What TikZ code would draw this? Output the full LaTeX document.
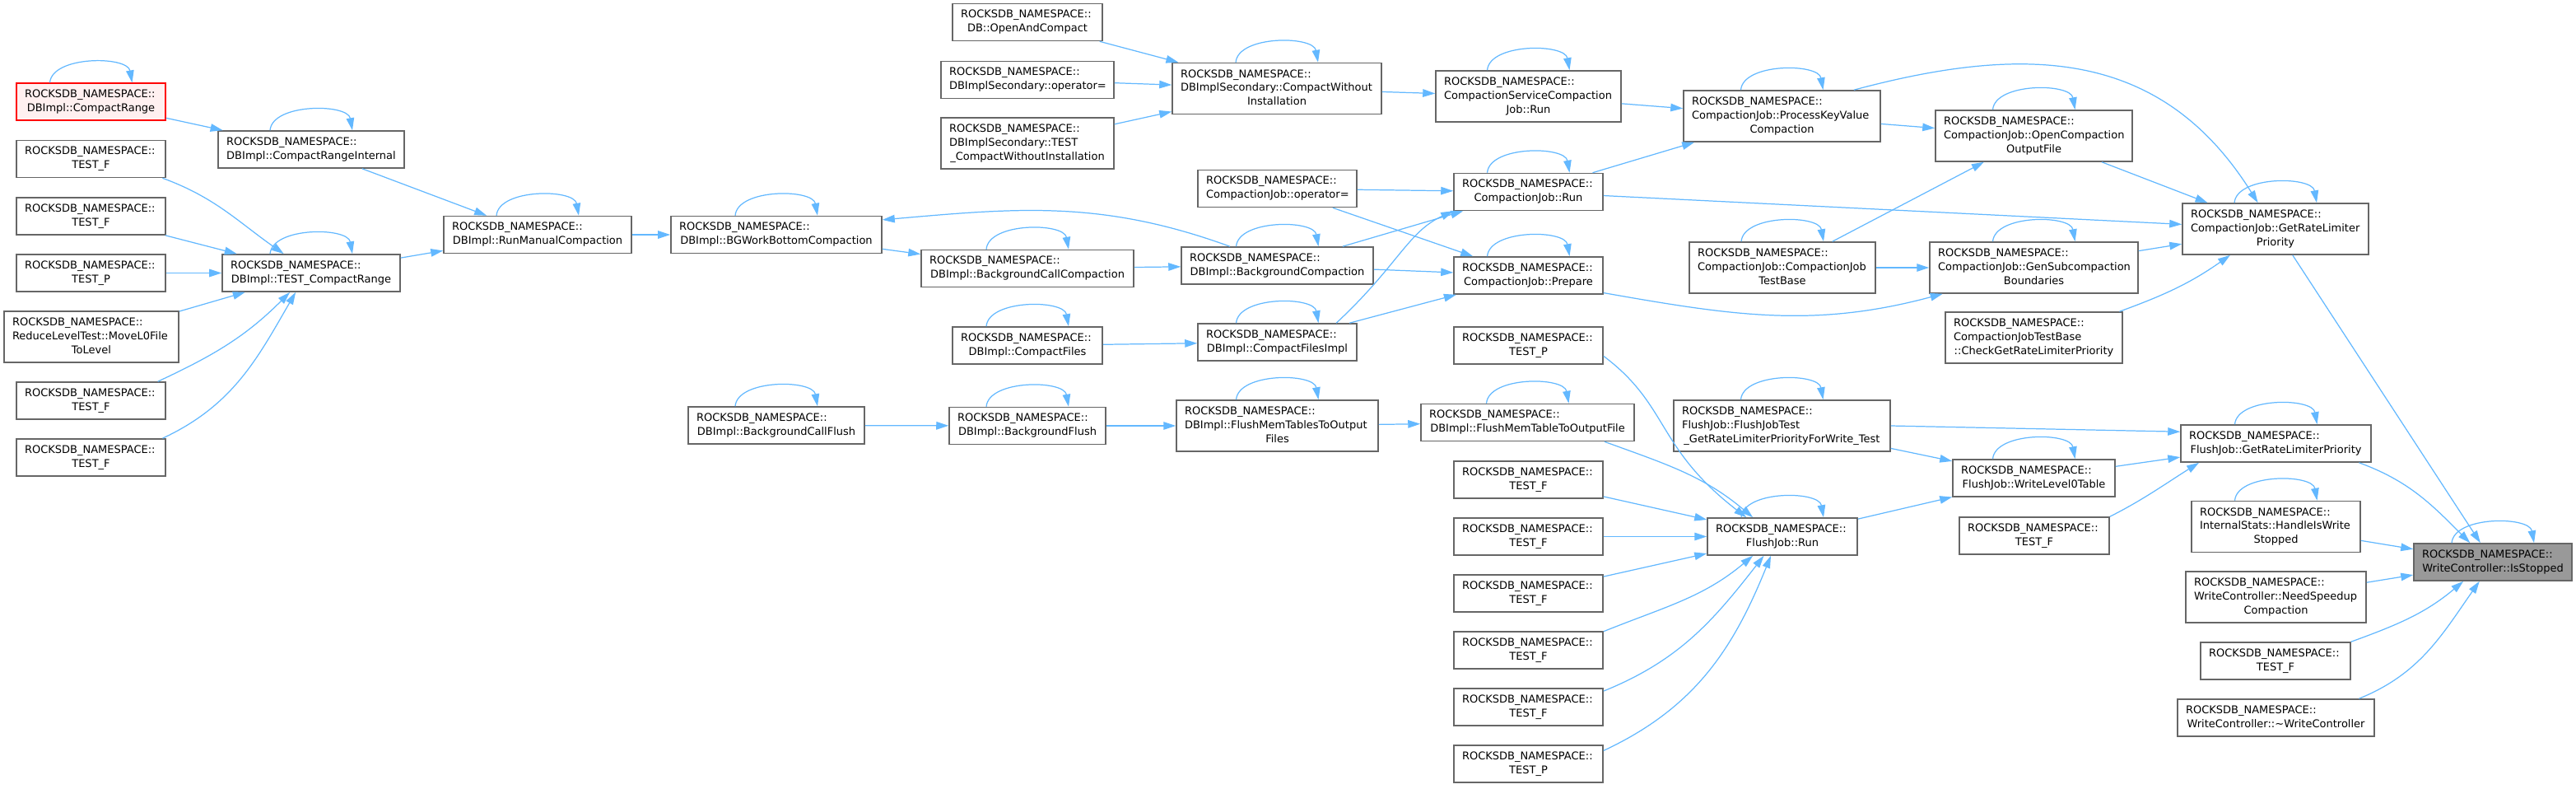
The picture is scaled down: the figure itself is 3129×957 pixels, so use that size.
\documentclass[tikz,border=0pt]{standalone}
\usepackage{fontspec}
\setmainfont{DejaVu Sans}
\usetikzlibrary{arrows.meta}
\definecolor{callblue}{HTML}{63B8FF}
\definecolor{boxgray}{HTML}{666666}
\definecolor{cutfill}{HTML}{FFF0F0}
\definecolor{focusgray}{HTML}{999999}
\newcommand{\rns}{ROCKSDB\_NAMESPACE::}
\newcommand{\lastln}[1]{\par\hbox to\hsize{\hfil\strut#1\hfil}}

\begin{document}
\begin{tikzpicture}[x=0.02cm, y=-0.02cm,
  fn/.style={draw=boxgray, line width=0.9pt, fill=white, rectangle, align=left,
    text width=#1, inner xsep=0.2cm, inner ysep=0pt, minimum height=0.9cm,
    font=\fontsize{7.4}{9.6}\selectfont, execute at begin node=\strut},
  tall/.style={minimum height=1.24cm},
  cut/.style={draw=red, line width=0.7pt, fill=cutfill},
  focus/.style={fill=focusgray},
  call/.style={draw=callblue, line width=0.7pt, -{Triangle[length=0.3cm,width=0.19cm]}}]
  \useasboundingbox (0,0) rectangle (3129,957);

  % callers of the manual compaction path
  \node[fn=3.22cm, cut] (crange) at (110.5,123.5) {\rns\lastln{DBImpl::CompactRange}};
  \node[fn=3.22cm] (tfa1) at (110.5,193) {\rns\lastln{TEST\_F}};
  \node[fn=3.22cm] (tfa2) at (110.5,262.5) {\rns\lastln{TEST\_F}};
  \node[fn=3.22cm] (tpa) at (110.5,331.5) {\rns\lastln{TEST\_P}};
  \node[fn=3.84cm, tall] (reduce) at (111,409) {\rns\\ReduceLevelTest::MoveL0File\lastln{ToLevel}};
  \node[fn=3.22cm] (tfa3) at (110.5,486.5) {\rns\lastln{TEST\_F}};
  \node[fn=3.22cm] (tfa4) at (110.5,555.5) {\rns\lastln{TEST\_F}};
  \node[fn=4.12cm] (crint) at (378,181.5) {\rns\lastln{DBImpl::CompactRangeInternal}};
  \node[fn=3.92cm] (tcr) at (378,331.5) {\rns\lastln{DBImpl::TEST\_CompactRange}};
  \node[fn=4.16cm] (rmc) at (653,285) {\rns\lastln{DBImpl::RunManualCompaction}};

  % background compaction and flush
  \node[fn=4.72cm] (bgwb) at (943,285) {\rns\lastln{DBImpl::BGWorkBottomCompaction}};
  \node[fn=3.88cm] (bcflush) at (943,516.5) {\rns\lastln{DBImpl::BackgroundCallFlush}};
  \node[fn=3.24cm] (openc) at (1248,27) {\rns\lastln{DB::OpenAndCompact}};
  \node[fn=3.80cm] (secop) at (1248,97) {\rns\lastln{DBImplSecondary::operator=}};
  \node[fn=3.80cm, tall] (sectest) at (1248,174) {\rns\\DBImplSecondary::TEST\lastln{\_CompactWithoutInstallation}};
  \node[fn=4.76cm] (bccomp) at (1248,326) {\rns\lastln{DBImpl::BackgroundCallCompaction}};
  \node[fn=3.24cm] (cfiles) at (1248,419.5) {\rns\lastln{DBImpl::CompactFiles}};
  \node[fn=3.40cm] (bflush) at (1248,517) {\rns\lastln{DBImpl::BackgroundFlush}};
  \node[fn=4.68cm, tall] (cwi) at (1551,107.5) {\rns\\DBImplSecondary::CompactWithout\lastln{Installation}};
  \node[fn=3.46cm] (cjop) at (1551.5,229) {\rns\lastln{CompactionJob::operator=}};
  \node[fn=4.26cm] (bcomp) at (1551.5,322.5) {\rns\lastln{DBImpl::BackgroundCompaction}};
  \node[fn=3.46cm] (cfimpl) at (1551.5,415.5) {\rns\lastln{DBImpl::CompactFilesImpl}};
  \node[fn=4.50cm, tall] (fmts) at (1551.5,517) {\rns\\DBImpl::FlushMemTablesToOutput\lastln{Files}};

  % compaction job and flush job
  \node[fn=4.10cm, tall] (cscrun) at (1856.5,117) {\rns\\CompactionServiceCompaction\lastln{Job::Run}};
  \node[fn=3.22cm] (cjrun) at (1856.5,233) {\rns\lastln{CompactionJob::Run}};
  \node[fn=3.22cm] (prep) at (1856.5,334.5) {\rns\lastln{CompactionJob::Prepare}};
  \node[fn=3.22cm] (tpg) at (1856.5,419.5) {\rns\lastln{TEST\_P}};
  \node[fn=4.78cm] (fmt) at (1855.5,513) {\rns\lastln{DBImpl::FlushMemTableToOutputFile}};
  \node[fn=3.22cm] (tfb1) at (1856.5,582.5) {\rns\lastln{TEST\_F}};
  \node[fn=3.22cm] (tfb2) at (1856.5,651.5) {\rns\lastln{TEST\_F}};
  \node[fn=3.22cm] (tfb3) at (1856.5,720.5) {\rns\lastln{TEST\_F}};
  \node[fn=3.22cm] (tfb4) at (1856.5,789.5) {\rns\lastln{TEST\_F}};
  \node[fn=3.22cm] (tfb5) at (1856.5,858.5) {\rns\lastln{TEST\_F}};
  \node[fn=3.22cm] (tpb) at (1856.5,927.5) {\rns\lastln{TEST\_P}};
  \node[fn=4.38cm, tall] (pkv) at (2164.5,141) {\rns\\CompactionJob::ProcessKeyValue\lastln{Compaction}};
  \node[fn=4.12cm, tall] (cjtb) at (2165,325) {\rns\\CompactionJob::CompactionJob\lastln{TestBase}};
  \node[fn=4.86cm, tall] (fjtest) at (2164.5,517) {\rns\\FlushJob::FlushJobTest\lastln{\_GetRateLimiterPriorityForWrite\_Test}};
  \node[fn=3.24cm] (fjrun) at (2165,651.5) {\rns\lastln{FlushJob::Run}};
  \node[fn=4.38cm, tall] (ocof) at (2470.5,165) {\rns\\CompactionJob::OpenCompaction\lastln{OutputFile}};
  \node[fn=4.66cm, tall] (gsb) at (2470.5,325) {\rns\\CompactionJob::GenSubcompaction\lastln{Boundaries}};
  \node[fn=3.90cm, tall] (cgrlp) at (2470.5,410) {\rns\\CompactionJobTestBase\lastln{::CheckGetRateLimiterPriority}};
  \node[fn=3.54cm] (wl0) at (2470.5,580.5) {\rns\lastln{FlushJob::WriteLevel0Table}};
  \node[fn=3.24cm] (tfr) at (2471,650.5) {\rns\lastln{TEST\_F}};

  % rate limiter priority and the stop check
  \node[fn=4.12cm, tall] (cjgrlp) at (2764,278) {\rns\\CompactionJob::GetRateLimiter\lastln{Priority}};
  \node[fn=4.22cm] (fjgrlp) at (2764.5,538.5) {\rns\lastln{FlushJob::GetRateLimiterPriority}};
  \node[fn=3.70cm, tall] (hiws) at (2764.5,639.5) {\rns\\InternalStats::HandleIsWrite\lastln{Stopped}};
  \node[fn=3.98cm, tall] (nsc) at (2764.5,725) {\rns\\WriteController::NeedSpeedup\lastln{Compaction}};
  \node[fn=3.24cm] (tfw) at (2764,802.5) {\rns\lastln{TEST\_F}};
  \node[fn=4.38cm] (dtor) at (2764.5,871.5) {\rns\lastln{WriteController::\textasciitilde WriteController}};
  \node[fn=3.44cm, focus] (isstop) at (3028,682.5) {\rns\lastln{WriteController::IsStopped}};

  % recursive calls
  \foreach \n in {crange,crint,tcr,rmc,bgwb,bccomp,bcomp,cfiles,cfimpl,cwi,cscrun,cjrun,prep,pkv,
      ocof,cjtb,gsb,cjgrlp,bcflush,bflush,fmts,fmt,fjtest,fjrun,wl0,fjgrlp,hiws,isstop}
    \draw[call] ([xshift=-1cm]\n.north) to[out=85,in=100,looseness=0.85] ([xshift=1cm]\n.north);

  % calls
  \draw[call] (crange) -- (crint);
  \draw[call] (crint) -- (rmc);
  \draw[call] (tfa1.-15.5) to[out=-20,in=145] (tcr.145);
  \draw[call] (tfa2) -- (tcr);
  \draw[call] (tpa) -- (tcr);
  \draw[call] (reduce) -- (tcr);
  \draw[call] (tfa3.16) to[out=25,in=-135] (tcr.-138);
  \draw[call] (tfa4.15) to[out=25,in=-120] (tcr.-129);
  \draw[call] (tcr) -- (rmc);
  \draw[call] (rmc) -- (bgwb);
  \draw[call] (bgwb) -- (bccomp);
  \draw[call] (bccomp) -- (bcomp);
  \draw[call] (bcomp.158) to[out=160,in=5] (bgwb.8);
  \draw[call] (bcomp) -- (cjrun);
  \draw[call] (bcomp) -- (prep);
  \draw[call] (cjop) -- (cjrun);
  \draw[call] (cjop) -- (prep);
  \draw[call] (cfiles) -- (cfimpl);
  \draw[call] (cfimpl.18) .. controls +(75,-70) and +(-55,25) .. (cjrun.south west);
  \draw[call] (cfimpl) -- (prep);
  \draw[call] (openc) -- (cwi);
  \draw[call] (secop) -- (cwi);
  \draw[call] (sectest) -- (cwi);
  \draw[call] (cwi) -- (cscrun);
  \draw[call] (cscrun) -- (pkv);
  \draw[call] (cjrun) -- (pkv);
  \draw[call] (pkv) -- (ocof);
  \draw[call] (pkv.20) to[out=15,in=122,looseness=1.1] (cjgrlp.124);
  \draw[call] (cjrun) -- (cjgrlp);
  \draw[call] (cjtb) -- (ocof);
  \draw[call] (cjtb) -- (gsb);
  \draw[call] (prep.-13) to[out=-10,in=-165] (gsb.-164);
  \draw[call] (ocof) -- (cjgrlp);
  \draw[call] (gsb) -- (cjgrlp);
  \draw[call] (cgrlp.17) to[out=20,in=-145] (cjgrlp.-150);
  \draw[call] (cjgrlp) -- (isstop);
  \draw[call] (bcflush) -- (bflush);
  \draw[call] (bflush) -- (fmts);
  \draw[call] (fmts) -- (fmt);
  \draw[call] (fmt.-14) to[out=-20,in=140] (fjrun.147);
  \draw[call] (tpg.-8) .. controls +(80,60) and +(-110,-85) .. (fjrun.152);
  \draw[call] (tfb1) -- (fjrun);
  \draw[call] (tfb2) -- (fjrun);
  \draw[call] (tfb3) -- (fjrun);
  \draw[call] (tfb4.14) to[out=22,in=-140] (fjrun.-147);
  \draw[call] (tfb5.12) to[out=22,in=-128] (fjrun.-134);
  \draw[call] (tpb.10) to[out=25,in=-112] (fjrun.-121);
  \draw[call] (fjrun) -- (wl0);
  \draw[call] (fjtest.east) -- (fjgrlp.173);
  \draw[call] (fjtest) -- (wl0);
  \draw[call] (wl0) -- (fjgrlp);
  \draw[call] (tfr.north east) .. controls +(40,-20) and +(-40,25) .. (fjgrlp.-166);
  \draw[call] (fjgrlp.-13.5) to[out=-20,in=135] (isstop.140);
  \draw[call] (hiws) -- (isstop);
  \draw[call] (nsc) -- (isstop);
  \draw[call] (tfw.north east) to[out=20,in=-140] (isstop.-147);
  \draw[call] (dtor.13) to[out=22,in=-125] (isstop.-125);
\end{tikzpicture}
\end{document}
